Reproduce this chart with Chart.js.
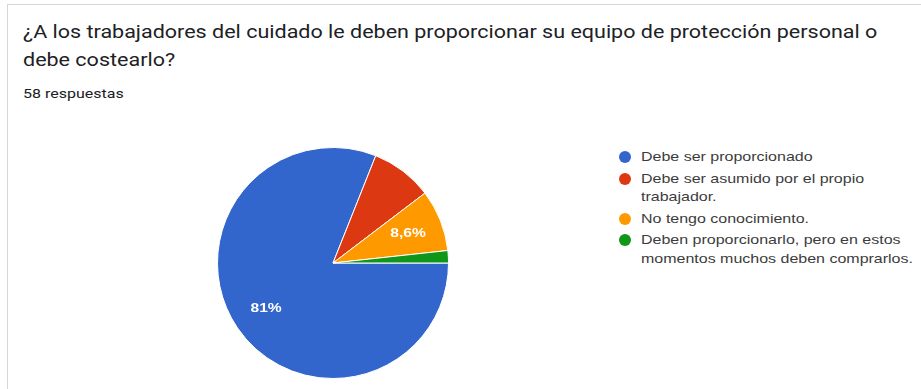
<!DOCTYPE html>
<html lang="es">
<head>
<meta charset="utf-8">
<script src="https://cdn.jsdelivr.net/npm/chart.js@4/dist/chart.umd.min.js"></script>
<style>
  html, body { margin: 0; padding: 0; background: #fff; }
  body { width: 921px; height: 389px; position: relative; overflow: hidden; }
  .card {
    position: absolute; left: 7px; top: 4px; width: 930px; height: 400px;
    border-top: 1px solid #d6d6d6; border-left: 1px solid #d6d6d6;
  }
  .wide { display: inline-block; transform-origin: 0 0; white-space: nowrap; }
  .title {
    position: absolute; left: 23px; top: 18px;
    font-family: Roboto, "Noto Sans", sans-serif; font-size: 18px; line-height: 28px;
    color: #202124; transform: scaleX(1.195);
  }
  .subtitle {
    position: absolute; left: 23px; top: 86px;
    font-family: Roboto, "Noto Sans", sans-serif; font-size: 13px; line-height: 16px;
    color: #202124; transform: scaleX(1.23);
  }
  #pieWrap { position: absolute; left: 213px; top: 143px; width: 240px; height: 240px; }
  #legend {
    position: absolute; left: 617px; top: 148px; margin: 0; padding: 0; list-style: none;
    font-family: "Liberation Sans", Arial, sans-serif; font-size: 13px; line-height: 18.5px;
    color: #3c3c3c;
  }
  #legend li { position: relative; padding-left: 24px; margin-bottom: 3px; }
  #legend .dot {
    position: absolute; left: 2px; top: 3px; width: 12px; height: 12px; border-radius: 50%;
  }
  #legend .wide { transform: scaleX(1.23); }
</style>
</head>
<body>
<div class="card"></div>
<div class="title wide">¿A los trabajadores del cuidado le deben proporcionar su equipo de protección personal o<br>debe costearlo?</div>
<div class="subtitle wide">58 respuestas</div>
<div id="pieWrap"><canvas id="pie" width="240" height="240"></canvas></div>
<ul id="legend"></ul>

<script>
// Answer options (each entry split into its legend lines)
const categories = [
  ['Debe ser proporcionado'],
  ['Debe ser asumido por el propio', 'trabajador.'],
  ['No tengo conocimiento.'],
  ['Deben proporcionarlo, pero en estos', 'momentos muchos deben comprarlos.']
];
// Number of responses for each option (58 in total)
const responses = [47, 5, 5, 1];
// Slice colours
const sliceColors = ['#3366cc', '#dc3912', '#ff9900', '#109618'];
// Slices that carry a percentage label inside the pie
const labeledSlices = [true, false, true, false];

const total = responses.reduce((a, b) => a + b, 0);

function formatPct(v) {
  const pct = Number((v / total * 100).toPrecision(2));
  return String(pct).replace('.', ',') + '%';
}

// Draws percentage labels inside the slices
const sliceLabels = {
  id: 'sliceLabels',
  afterDatasetsDraw(chart) {
    const ctx = chart.ctx;
    const meta = chart.getDatasetMeta(0);
    meta.data.forEach((arc, i) => {
      if (!labeledSlices[i]) return;
      const p = arc.getProps(['x', 'y', 'startAngle', 'endAngle', 'outerRadius'], true);
      const mid = (p.startAngle + p.endAngle) / 2;
      const r = p.outerRadius * 0.7;
      ctx.save();
      ctx.translate(p.x + Math.cos(mid) * r, p.y + Math.sin(mid) * r);
      ctx.scale(1.2, 1);
      ctx.font = 'bold 13px "Liberation Sans", Arial, sans-serif';
      ctx.fillStyle = '#ffffff';
      ctx.textAlign = 'center';
      ctx.textBaseline = 'middle';
      ctx.fillText(formatPct(chart.data.datasets[0].data[i]), 0, 0);
      ctx.restore();
    });
  }
};

const chart = new Chart(document.getElementById('pie'), {
  type: 'pie',
  data: {
    labels: categories.map(l => l.join(' ')),
    datasets: [{
      data: responses,
      backgroundColor: sliceColors,
      borderColor: '#ffffff',
      borderWidth: 1
    }]
  },
  options: {
    responsive: false,
    animation: false,
    rotation: 90,
    layout: { padding: 4 },
    plugins: {
      legend: { display: false },
      tooltip: { enabled: false }
    }
  },
  plugins: [sliceLabels]
});

// HTML legend built from the chart's own labels and colours
const legendEl = document.getElementById('legend');
categories.forEach((lines, i) => {
  const li = document.createElement('li');
  const dot = document.createElement('span');
  dot.className = 'dot';
  dot.style.background = chart.data.datasets[0].backgroundColor[i];
  li.appendChild(dot);
  const txt = document.createElement('span');
  txt.className = 'wide';
  lines.forEach((t, k) => {
    if (k) txt.appendChild(document.createElement('br'));
    txt.appendChild(document.createTextNode(t));
  });
  li.appendChild(txt);
  legendEl.appendChild(li);
});
</script>
</body>
</html>
